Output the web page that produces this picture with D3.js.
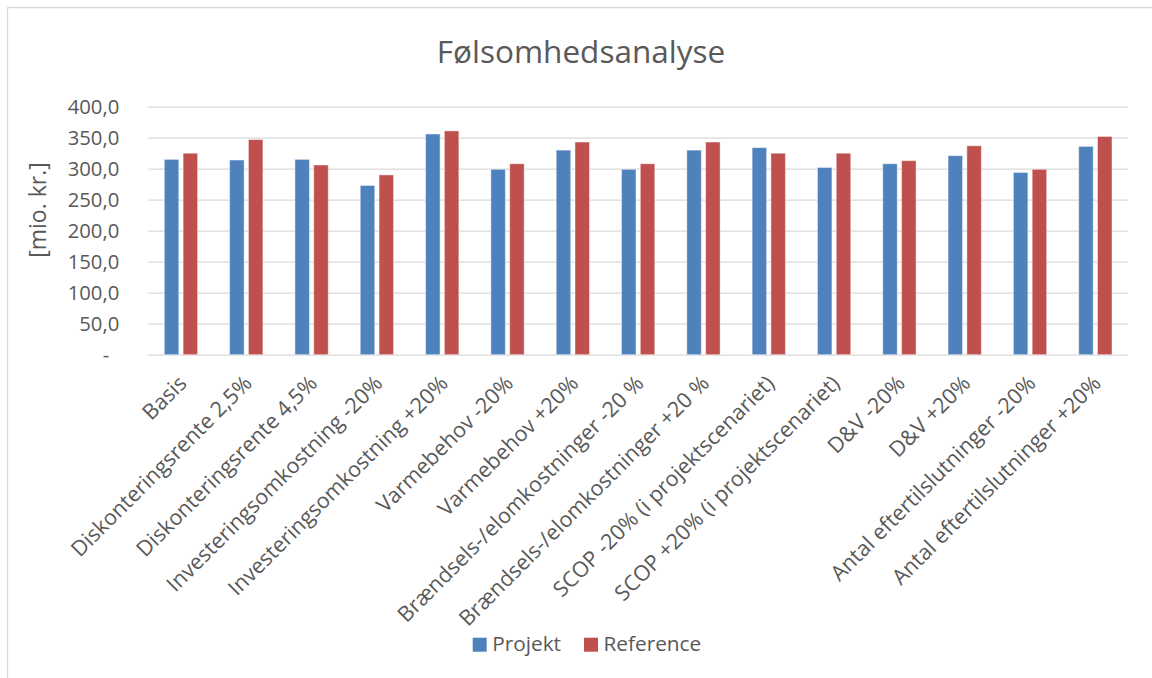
<!DOCTYPE html>
<html>
<head>
<meta charset="utf-8">
<script src="https://cdn.jsdelivr.net/npm/d3@7"></script>
<style>
  html, body { margin: 0; padding: 0; background: #ffffff; }
  svg { display: block; }
  text { font-family: "Open Sans", "Noto Sans", sans-serif; fill: #595959; }
</style>
</head>
<body>
<svg id="chart" width="1152" height="678"></svg>
<script>
const categories = [
  "Basis",
  "Diskonteringsrente 2,5%",
  "Diskonteringsrente 4,5%",
  "Investeringsomkostning -20%",
  "Investeringsomkostning +20%",
  "Varmebehov -20%",
  "Varmebehov +20%",
  "Brændsels-/elomkostninger -20 %",
  "Brændsels-/elomkostninger +20 %",
  "SCOP -20% (i projektscenariet)",
  "SCOP +20% (i projektscenariet)",
  "D&V -20%",
  "D&V +20%",
  "Antal eftertilslutninger -20%",
  "Antal eftertilslutninger +20%"
];
const projekt   = [315, 314, 315, 273, 356, 299, 330, 299, 330, 334, 302, 308, 321, 294, 336];
const reference = [325, 347, 306, 290, 361, 308, 343, 308, 343, 325, 325, 313, 337, 299, 352];
const seriesNames = ["Projekt", "Reference"];
const seriesColors = ["#4F81BD", "#C0504D"];
const tickValues = [0, 50, 100, 150, 200, 250, 300, 350, 400];
const tickLabels = ["-", "50,0", "100,0", "150,0", "200,0", "250,0", "300,0", "350,0", "400,0"];
const chartTitle = "Følsomhedsanalyse";
const yTitle = "[mio. kr.]";

const svg = d3.select("#chart");

// frame
svg.append("line").attr("x1", 7.5).attr("y1", 7.5).attr("x2", 1152).attr("y2", 7.5)
  .attr("stroke", "#d9d9d9").attr("stroke-width", 1.3);
svg.append("line").attr("x1", 7.5).attr("y1", 7.5).attr("x2", 7.5).attr("y2", 678)
  .attr("stroke", "#d9d9d9").attr("stroke-width", 1.3);

const plot = { left: 148.3, right: 1128, top: 106.7, bottom: 354.7 };

const x0 = d3.scaleBand().domain(categories).range([plot.left, plot.right]).padding(0);
const clusterW = 33.3;
const x1 = d3.scaleBand().domain(seriesNames).range([0, clusterW]).paddingInner(0.229).paddingOuter(0);
const y = d3.scaleLinear().domain([0, 400]).range([plot.bottom, plot.top]);

// gridlines
const yAxis = d3.axisLeft(y).tickValues(tickValues).tickSize(-(plot.right - plot.left))
  .tickFormat((d, i) => tickLabels[i]).tickPadding(29);
const gy = svg.append("g").attr("transform", `translate(${plot.left},0)`).call(yAxis);
gy.select(".domain").remove();
gy.selectAll(".tick line").attr("stroke", "#d9d9d9").attr("stroke-width", 1.3);
gy.selectAll(".tick text").attr("font-size", 20.3).attr("fill", "#595959")
  .attr("dy", "0.35em")
  .attr("x", (d) => d === 0 ? -39 : -29);

// bars
const data = categories.map((c, i) => ({ cat: c, vals: [projekt[i], reference[i]] }));
const groups = svg.append("g").selectAll("g").data(data).join("g")
  .attr("transform", d => `translate(${x0(d.cat) + x0.bandwidth() / 2 - clusterW / 2},0)`);
groups.selectAll("rect").data(d => d.vals.map((v, k) => ({ s: seriesNames[k], v, k })))
  .join("rect")
  .attr("x", d => x1(d.s))
  .attr("width", x1.bandwidth())
  .attr("y", d => y(d.v))
  .attr("height", d => y(0) - y(d.v))
  .attr("fill", d => seriesColors[d.k])
  .attr("stroke", "rgba(255,255,255,0.45)")
  .attr("stroke-width", 1);

// x labels
const xAxis = d3.axisBottom(x0).tickSize(0).tickPadding(0);
const gx = svg.append("g").attr("transform", `translate(0,${plot.bottom})`).call(xAxis);
gx.select(".domain").remove();
gx.selectAll(".tick text")
  .attr("font-size", 21.5)
  .attr("fill", "#595959")
  .attr("text-anchor", "end")
  .attr("dy", 0)
  .attr("y", 0)
  .attr("transform", "translate(7,30) rotate(-45)");

// title
svg.append("text").attr("x", 581).attr("y", 62.7).attr("text-anchor", "middle")
  .attr("font-size", 31.5).text(chartTitle);

// y-axis title
svg.append("text").attr("transform", "translate(46,210) rotate(-90)")
  .attr("text-anchor", "middle").attr("font-size", 23).text(yTitle);

// legend
const legendX = [472.7, 584];
const lg = svg.append("g").selectAll("g").data(seriesNames).join("g")
  .attr("transform", (d, i) => `translate(${legendX[i]},637.7)`);
lg.append("rect").attr("width", 14).attr("height", 14).attr("fill", (d, i) => seriesColors[i]);
lg.append("text").attr("x", 19.5).attr("y", 13.4).attr("font-size", 20.8).text(d => d);
</script>
</body>
</html>
